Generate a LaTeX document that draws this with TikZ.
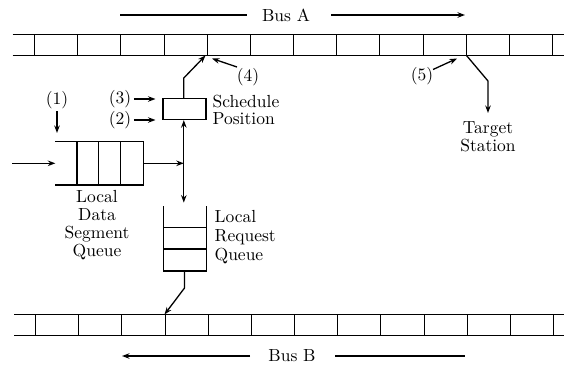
\documentclass[tikz,border=0pt]{standalone}
\usepackage{fontspec}
\setmainfont{lmroman10-regular.otf}
\usetikzlibrary{arrows.meta,calc}
\begin{document}
\begin{tikzpicture}[x=1pt,y=-1pt,
  line width=1.3pt,
  every node/.style={font=\fontsize{17.5}{18}\selectfont, inner sep=0pt},
  arr/.style={-{Stealth[length=7.5pt,width=5.5pt]}},
  lbl/.style={align=center},
]
\useasboundingbox (0,0) rectangle (564,368);

% ---- Bus A ----
\draw (12.7,34.5) -- (564,34.5);
\draw (12.7,55.5) -- (564,55.5);
\foreach \k in {0,...,12} \draw ({round(34+43.17*\k)+0.5},34.5) -- ({round(34+43.17*\k)+0.5},55.5);
% ---- Bus B ----
\draw (14,314.5) -- (564,314.5);
\draw (14,335.5) -- (564,335.5);
\foreach \k in {0,...,12} \draw ({round(35+43.17*\k)+0.5},314.5) -- ({round(35+43.17*\k)+0.5},335.5);

% bus labels
\node (busA) at (286,15) {Bus A};
\coordinate (busAl1) at (120,15);
\coordinate (busAl2) at (247,15);
\coordinate (busAr1) at (331,15);
\coordinate (busAr2) at (465,15);
\draw (busAl1) -- (busAl2);
\draw[arr] (busAr1) -- (busAr2);

\node (busB) at (292,356) {Bus B};
\coordinate (busBl1) at (250,356);
\coordinate (busBl2) at (122,356);
\coordinate (busBr1) at (335,356);
\coordinate (busBr2) at (465,356);
\draw[arr] (busBl1) -- (busBl2);
\draw (busBr1) -- (busBr2);

% bus points
\coordinate (a4) at (205.5,55.5);
\coordinate (a5) at (466.5,55.5);
\coordinate (b4) at (164.5,314.5);

% ---- Schedule box ----
\node[draw, minimum width=43pt, minimum height=21pt] (sched) at (184.5,109) {};
\node[anchor=west, align=left, font=\fontsize{17.5}{17}\selectfont] (schedtxt) at (212,109.5) {Schedule\\Position};

% ---- Local data segment queue ----
\node[minimum width=87pt, minimum height=42pt] (dq) at (99.5,163.3) {};
\draw (dq.north west) -- (dq.north east) -- (dq.south east) -- (dq.south west);
\foreach \x in {21.5,43.3,65} \draw ($(dq.north west)+(\x,0)$) -- ($(dq.south west)+(\x,0)$);
\node[lbl] (dqtxt) at (97,225.5) {Local\\Data\\Segment\\Queue};

% ---- Local request queue ----
\node[minimum width=41.5pt, minimum height=63.5pt] (rq) at (184.8,238.5) {};
\draw (rq.north west) -- (rq.south west) -- (rq.south east) -- (rq.north east);
\foreach \y in {21.2,42.8} \draw ($(rq.north west)+(0,\y)$) -- ($(rq.north east)+(0,\y)$);
\node[anchor=west, align=left, font=\fontsize{17.5}{19}\selectfont] (rqtxt) at (214,237.5) {Local\\Request\\Queue};

% ---- junction and flows ----
\coordinate (j) at (183.8,163.3);
\coordinate (in) at (12,163.3);
\draw[arr] (in) -- (dq.west);
\draw[arr] (dq.east) -- (j);
\draw[arr] (j) -- (j |- sched.south);
\draw[arr, shorten >=3.5pt] (j) -- (j |- rq.north);

\coordinate (s1) at (183.8,78);
\draw[arr] (sched.north -| s1) -- (s1) -- (a4);

\coordinate (r1) at (184.5,288);
\draw[arr] (rq.south -| r1) -- (r1) -- (b4);

% target station
\coordinate (t1) at (488,81);
\coordinate (t2) at (488,113);
\draw[arr] (a5) -- (t1) -- (t2);
\node[lbl] (target) at (488,137) {Target\\Station};

% numbered labels
\node (l1) at (57,100) {(1)};
\coordinate (l1e) at (57,133);
\draw[arr] (57,111) -- (l1e);

\node (l3) at (120,99) {(3)};
\node (l2) at (120,120) {(2)};
\draw[arr] (l3.east) ++(2,0) -- (155.5,99);
\draw[arr] (l2.east) ++(2,0) -- (155.5,120);

\node (l4) at (248,77) {(4)};
\draw[arr] (237,67) -- (212,58.5);

\node (l5) at (422,76) {(5)};
\draw[arr] (433,69.5) -- (457,58.5);
\end{tikzpicture}
\end{document}
